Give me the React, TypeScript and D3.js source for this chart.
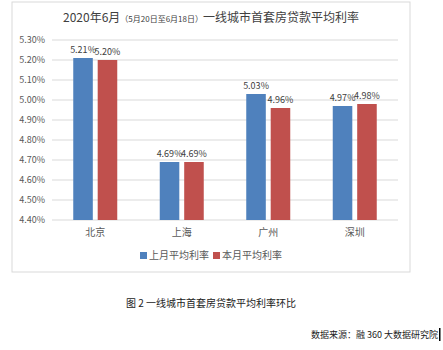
import React from 'react';
import * as d3 from 'd3';

const cities = ['北京', '上海', '广州', '深圳'];
const seriesNames = ['上月平均利率', '本月平均利率'];
const lastMonth = [5.21, 4.69, 5.03, 4.97];
const thisMonth = [5.2, 4.69, 4.96, 4.98];
const yTicks = [4.4, 4.5, 4.6, 4.7, 4.8, 4.9, 5.0, 5.1, 5.2, 5.3];
const colors = ['#4F81BD', '#C0504D'];

const font = '"Noto Sans CJK SC", "Noto Sans", sans-serif';

export default function App() {
  const left = 52;
  const right = 398;
  const top = 40;
  const bottom = 220;

  const y = d3.scaleLinear().domain([4.4, 5.3]).range([bottom, top]);
  const x = d3.scaleBand<string>().domain(cities).range([left, right]);
  const groupW = 44;
  const inner = d3.scaleBand<string>().domain(seriesNames).range([0, groupW]).paddingInner(0.2);
  const values = [lastMonth, thisMonth];

  return (
    <div style={{ position: 'absolute', left: 0, top: 0 }}>
      <svg width={443} height={350} style={{ display: 'block', background: '#fff' }}>
        <rect x={12} y={2} width={398} height={270} fill="#fff" stroke="#d9d9d9" strokeWidth={1} />
        <text x={211} y={22} textAnchor="middle" fontFamily={font} fill="#404040" fontSize={12}>
          2020年6月<tspan fontSize={8}>（5月20日至6月18日）</tspan>一线城市首套房贷款平均利率
        </text>

        {yTicks.map((t) => (
          <g key={t}>
            <line x1={left} x2={right} y1={y(t)} y2={y(t)} stroke="#d9d9d9" strokeWidth={1} />
            <text x={45} y={y(t) + 3} textAnchor="end" fontFamily={font} fontSize={9} fill="#595959">
              {t.toFixed(2)}%
            </text>
          </g>
        ))}

        {cities.map((c, i) => {
          const gx = (x(c) as number) + (x.bandwidth() - groupW) / 2;
          return (
            <g key={c}>
              {seriesNames.map((s, j) => {
                const v = values[j][i];
                const bx = gx + (inner(s) as number);
                return (
                  <g key={s}>
                    <rect x={bx} y={y(v)} width={inner.bandwidth()} height={bottom - y(v)} fill={colors[j]} />
                    <text
                      x={bx + inner.bandwidth() / 2}
                      y={y(v) - 5}
                      textAnchor="middle"
                      fontFamily={font}
                      fontSize={9}
                      fill="#404040"
                    >
                      {v.toFixed(2)}%
                    </text>
                  </g>
                );
              })}
              <text
                x={(x(c) as number) + x.bandwidth() / 2}
                y={236}
                textAnchor="middle"
                fontFamily={font}
                fontSize={10}
                fill="#595959"
              >
                {c}
              </text>
            </g>
          );
        })}

        {seriesNames.map((s, j) => {
          const lx = 140 + j * 73;
          return (
            <g key={s}>
              <rect x={lx} y={252} width={7} height={7} fill={colors[j]} />
              <text x={lx + 9} y={259} fontFamily={font} fontSize={10} fill="#595959">
                {s}
              </text>
            </g>
          );
        })}

        <text x={211} y={307} textAnchor="middle" fontFamily={font} fontSize={10} fill="#222">
          图 2 一线城市首套房贷款平均利率环比
        </text>
        <text x={438} y={338} textAnchor="end" fontFamily={font} fontSize={9} fill="#222">
          数据来源：融 360 大数据研究院
        </text>
        <rect x={439} y={328} width={1.5} height={13} fill="#000" />
      </svg>
    </div>
  );
}
